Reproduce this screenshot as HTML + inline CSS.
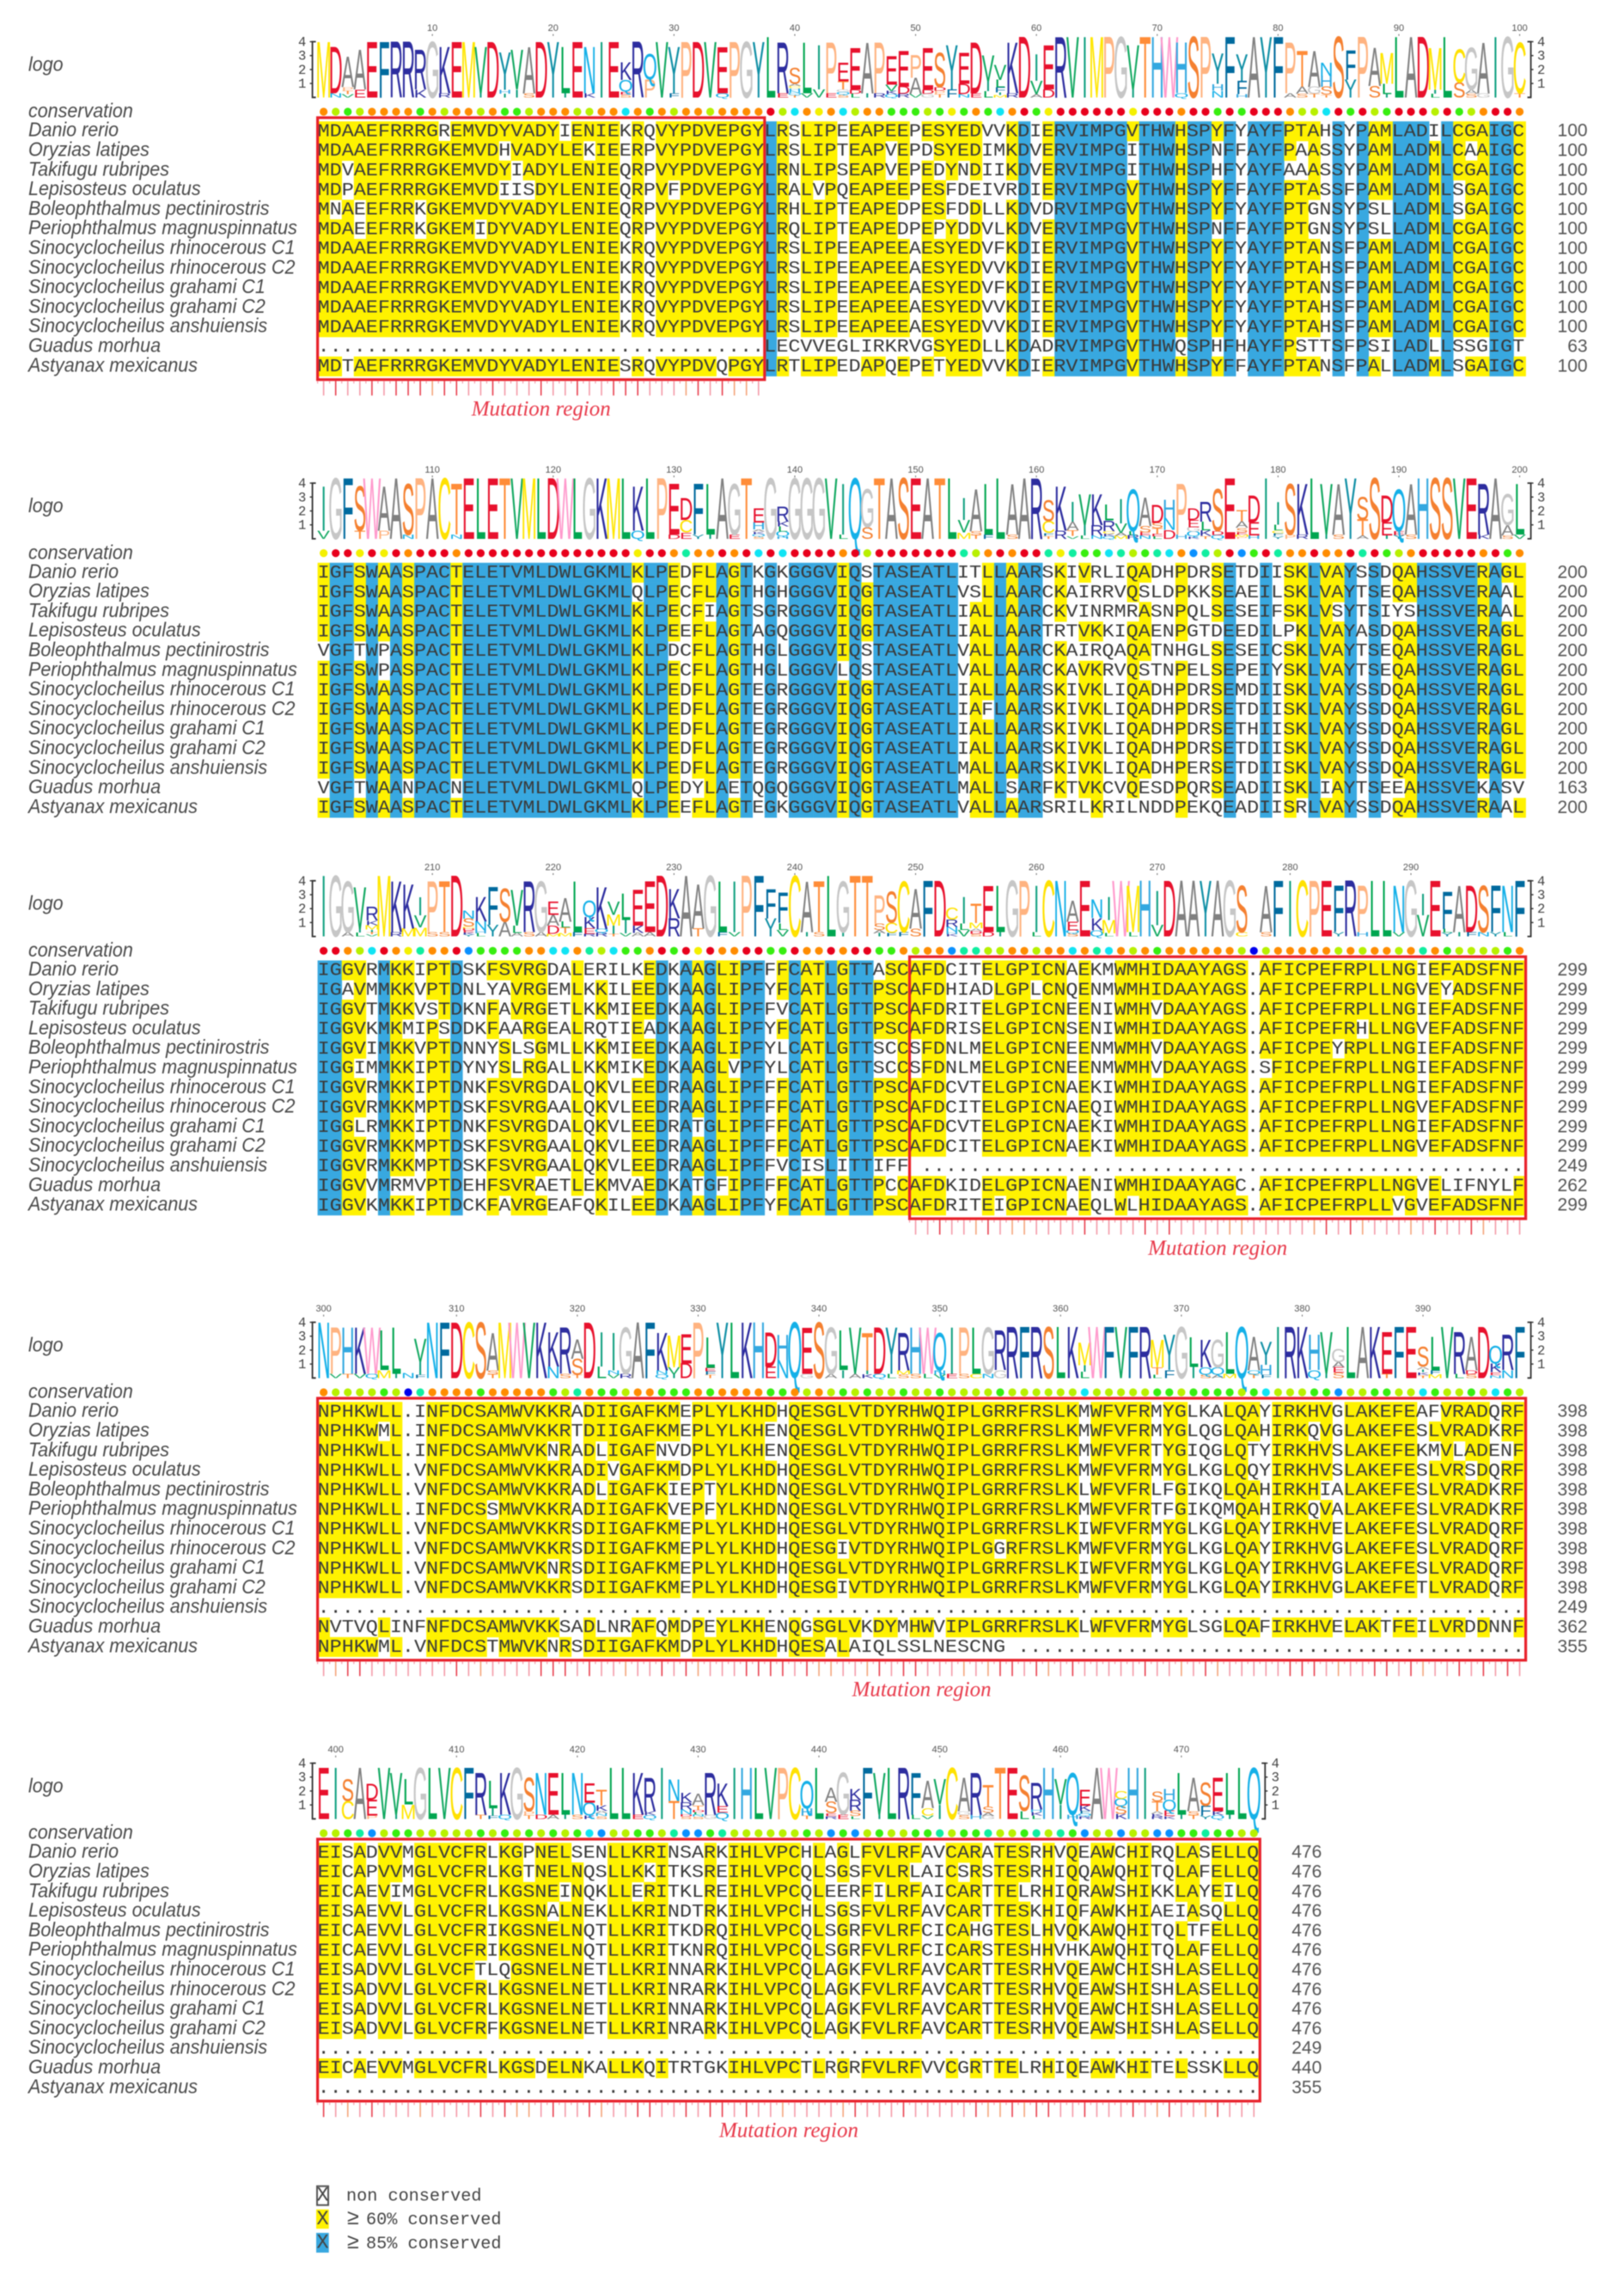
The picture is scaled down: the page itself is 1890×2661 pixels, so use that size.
<!DOCTYPE html>
<html lang="en">
<head>
<meta charset="utf-8">
<title>Multiple sequence alignment with logo and conservation</title>
<style>
html,body{margin:0;padding:0;background:#fff;}
#alignment-figure{display:block;width:1890px;height:2661px;filter:blur(0.6px);}
.mono{font-family:"Liberation Mono",monospace;}
.sans{font-family:"Liberation Sans",sans-serif;}
.serif{font-family:"Liberation Serif",serif;}
</style>
</head>
<body>
<svg id="alignment-figure" xmlns="http://www.w3.org/2000/svg" width="1890" height="2661" viewBox="0 0 1890 2661">
  <rect x="0" y="0" width="1890" height="2661" fill="#ffffff"/>
  <g id="blocks"></g>
  <g id="legend" class="mono" font-size="20.2" fill="#444">
    <g>
      <rect x="369" y="2543.7" width="13" height="22" fill="#fff" stroke="#555" stroke-width="2"/>
      <text x="375.5" y="2560.5" text-anchor="middle" font-size="23.4">X</text>
      <text x="403" y="2560.7">non conserved</text>
    </g>
    <g>
      <rect x="368" y="2570.7" width="14.7" height="22.5" fill="#fff200"/>
      <text x="375.5" y="2588" text-anchor="middle" font-size="23.4">X</text>
      <text x="404" y="2588"><tspan class="sans" font-size="25">≥</tspan><tspan x="426">60% conserved</tspan></text>
    </g>
    <g>
      <rect x="368" y="2598" width="14.7" height="23" fill="#38a8e0"/>
      <text x="375.5" y="2615.5" text-anchor="middle" font-size="23.4">X</text>
      <text x="404" y="2616"><tspan class="sans" font-size="25">≥</tspan><tspan x="426">85% conserved</tspan></text>
    </g>
  </g>
</svg>
<script>
const speciesNames = [
  "Danio rerio","Oryzias latipes","Takifugu rubripes","Lepisosteus oculatus",
  "Boleophthalmus pectinirostris","Periophthalmus magnuspinnatus",
  "Sinocyclocheilus rhinocerous C1","Sinocyclocheilus rhinocerous C2",
  "Sinocyclocheilus grahami C1","Sinocyclocheilus grahami C2",
  "Sinocyclocheilus anshuiensis","Guadus morhua","Astyanax mexicanus"
];

const alignmentBlock1 = [
  "MDAAEFRRRGREMVDYVADYIENIEKRQVYPDVEPGYLRSLIPEEAPEEPESYEDVVKDIERVIMPGVTHWHSPYFYAYFPTAHSYPAMLADILCGAIGC",
  "MDAAEFRRRGKEMVDHVADYLEKIEERPVYPDVEPGYLRSLIPTEAPVEPDSYEDIMKDVERVIMPGITHWHSPNFFAYFPAASSYPAMLADMLCAAIGC",
  "MDVAEFRRRGKEMVDYIADYLENIEQRPVYPDVEPGYLRNLIPSEAPVEPEDYNDIIKDVERVIMPGITHWHSPHFYAYFAAASSYPAMLADMLCGAIGC",
  "MDPAEFRRRGKEMVDIISDYLENIEQRPVFPDVEPGYLRALVPQEAPEEPESFDEIVRDIERVIMPGVTHWHSPYFFAYFPTASSFPAMLADMLSGAIGC",
  "MNAEEFRRKGKEMVDYVADYLENIEQRPVYPDVEPGYLRHLIPTEAPEDPESFDDLLKDVDRVIMPGVTHWHSPYFYAYFPTGNSYPSLLADMLSGAIGC",
  "MDAEEFRRKGKEMIDYVADYLENIEQRPVYPDVEPGYLRQLIPTEAPEDPEPYDDVLKDVERVIMPGVTHWHSPNFFAYFPTGNSYPSLLADMLCGAIGC",
  "MDAAEFRRRGKEMVDYVADYLENIEKRQVYPDVEPGYLRSLIPEEAPEEAESYEDVFKDIERVIMPGVTHWHSPYFYAYFPTANSFPAMLADMLCGAIGC",
  "MDAAEFRRRGKEMVDYVADYLENIEKRQVYPDVEPGYLRSLIPEEAPEEAESYEDVVKDIERVIMPGVTHWHSPYFYAYFPTAHSFPAMLADMLCGAIGC",
  "MDAAEFRRRGKEMVDYVADYLENIEKRQVYPDVEPGYLRSLIPEEAPEEAESYEDVFKDIERVIMPGVTHWHSPYFYAYFPTANSFPAMLADMLCGAIGC",
  "MDAAEFRRRGKEMVDYVADYLENIEKRQVYPDVEPGYLRSLIPEEAPEEAESYEDVVKDIERVIMPGVTHWHSPYFYAYFPTAHSFPAMLADMLCGAIGC",
  "MDAAEFRRRGKEMVDYVADYLENIEKRQVYPDVEPGYLRSLIPEEAPEEAESYEDVVKDIERVIMPGVTHWHSPYFYAYFPTAHSFPAMLADMLCGAIGC",
  ".....................................LECVVEGLIRKRVGSYEDLLKDADRVIMPGVTHWQSPHFHAYFPSTTSFPSILADLLSSGIGT",
  "MDTAEFRRRGKEMVDYVADYLENIESRQVYPDVQPGYLRTLIPEDAPQEPETYEDVVKDIERVIMPGVTHWHSPYFFAYFPTANSFPALLADMLSGAIGC"
];
const alignmentBlock2 = [
  "IGFSWAASPACTELETVMLDWLGKMLKLPEDFLAGTKGKGGGVIQSTASEATLITLLAARSKIVRLIQADHPDRSETDIISKLVAYSSDQAHSSVERAGL",
  "IGFSWAASPACTELETVMLDWLGKMLQLPECFLAGTHGHGGGVIQGTASEATLVSLLAARCKAIRRVQSLDPKKSEAEILSKLVAYTSEQAHSSVERAAL",
  "IGFSWAASPACTELETVMLDWLGKMLKLPECFIAGTSGRGGGVIQGTASEATLIALLAARCKVINRMRASNPQLSESEIFSKLVSYTSIYSHSSVERAAL",
  "IGFSWAASPACTELETVMLDWLGKMLKLPEEFLAGTAGQGGGVIQGTASEATLIALLAARTRTVKKIQAENPGTDEEDILPKLVAYASDQAHSSVERAGL",
  "VGFTWPASPACTELETVMLDWLGKMLKLPDCFLAGTHGLGGGVIQSTASEATLVALLAARCKAIRQAQATNHGLSESEICSKLVAYTSEQAHSSVERAGL",
  "IGFSWPASPACTELETVMLDWLGKMLKLPECFLAGTHGLGGGVLQSTASEATLVALLAARCKAVKRVQSTNPELSEPEIYSKLVAYTSEQAHSSVERAGL",
  "IGFSWAASPACTELETVMLDWLGKMLKLPEDFLAGTEGRGGGVIQGTASEATLIALLAARSKIVKLIQADHPDRSEMDIISKLVAYSSDQAHSSVERAGL",
  "IGFSWAASPACTELETVMLDWLGKMLKLPEDFLAGTEGRGGGVIQGTASEATLIAFLAARSKIVKLIQADHPDRSETDIISKLVAYSSDQAHSSVERAGL",
  "IGFSWAASPACTELETVMLDWLGKMLKLPEDFLAGTEGRGGGVIQGTASEATLIALLAARSKIVKLIQADHPDRSETHIISKLVAYSSDQAHSSVERAGL",
  "IGFSWAASPACTELETVMLDWLGKMLKLPEDFLAGTEGRGGGVIQGTASEATLIALLAARSKIVKLIQADHPDRSETDIISKLVAYSSDQAHSSVERAGL",
  "IGFSWAASPACTELETVMLDWLGKMLKLPEDFLAGTEGRGGGVIQGTASEATLMALLAARSKIVKLIQADHPERSETDIISKLVAYSSDQAHSSVERAGL",
  "VGFTWAANPACNELETVMLDWLGKMLQLPEDYLAETQGQGGGVIQGTASEATLMALLSARFKTVKCVQESDPQRSEADIISKLIAYTSEEAHSSVEKASV",
  "IGFSWAASPACTELETVMLDWLGKMLKLPEEFLAGTEGKGGGVIQGTASEATLVALLAARSRILKRILNDDPEKQEADIISRLVAYSSDQAHSSVERAAL"
];
const alignmentBlock3 = [
  "IGGVRMKKIPTDSKFSVRGDALERILKEDKAAGLIPFFFCATLGTTASCAFDCITELGPICNAEKMWMHIDAAYAGS.AFICPEFRPLLNGIEFADSFNF",
  "IGAVMMKKVPTDNLYAVRGEMLKKILEEDKAAGLIPFYFCATLGTTPSCAFDHIADLGPLCNQENMWMHIDAAYAGS.AFICPEFRPLLNGVEYADSFNF",
  "IGGVTMKKVSTDKNFAVRGETLKKMIEEDKAAGLIPFFVCATLGTTPSCAFDRITELGPICNEENIWMHVDAAYAGS.AFICPEFRPLLNGIEFADSFNF",
  "IGGVKMKMIPSDDKFAARGEALRQTIEADKAAGLIPFYFCATLGTTPSCAFDRISELGPICNSENIWMHIDAAYAGS.AFICPEFRHLLNGVEFADSFNF",
  "IGGVIMKKVPTDNNYSLSGMLLKKMIEEDKAAGLIPFYLCATLGTTSCCSFDNLMELGPICNEENMWMHVDAAYAGS.AFICPEYRPLLNGIEFADSFNF",
  "IGGIMMKKIPTDYNYSLRGALLKKMIKEDKAAGLVPFYLCATLGTTSCCSFDNLMELGPICNEENMWMHVDAAYAGS.SFICPEFRPLLNGIEFADSFNF",
  "IGGVRMKKIPTDNKFSVRGDALQKVLEEDRAAGLIPFFFCATLGTTPSCAFDCVTELGPICNAEKIWMHIDAAYAGS.AFICPEFRPLLNGIEFADSFNF",
  "IGGVRMKKMPTDSKFSVRGAALQKVLEEDRAAGLIPFFFCATLGTTPSCAFDCITELGPICNAEQIWMHIDAAYAGS.AFICPEFRPLLNGVEFADSFNF",
  "IGGLRMKKIPTDNKFSVRGDALQKVLEEDRATGLIPFFFCATLGTTPSCAFDCVTELGPICNAEKIWMHIDAAYAGS.AFICPEFRPLLNGIEFADSFNF",
  "IGGVRMKKMPTDSKFSVRGAALQKVLEEDRAAGLIPFFFCATLGTTPSCAFDCITELGPICNAEKIWMHIDAAYAGS.AFICPEFRPLLNGVEFADSFNF",
  "IGGVRMKKMPTDSKFSVRGAALQKVLEEDRAAGLIPFFVCISLITTIFF...................................................",
  "IGGVVMRMVPTDEHFSVRAETLEKMVAEDKATGFIPFFFCATLGTTPCCAFDKIDELGPICNAENIWMHIDAAYAGC.AFICPEFRPLLNGVELIFNYLF",
  "IGGVKMKKIPTDCKFAVRGEAFQKILEEDKAAGLIPFYFCATLGTTPSCAFDRITEIGPICNAEQLWLHIDAAYAGS.AFICPEFRPLLVGVEFADSFNF"
];
const alignmentBlock4 = [
  "NPHKWLL.INFDCSAMWVKKRADIIGAFKMEPLYLKHDHQESGLVTDYRHWQIPLGRRFRSLKMWFVFRMYGLKALQAYIRKHVGLAKEFEAFVRADQRF",
  "NPHKWML.INFDCSAMWVKKRTDIIGAFKMEPLYLKHENQESGLVTDYRHWQIPLGRRFRSLKMWFVFRMYGLQGLQAHIRKQVGLAKEFESLVRADKRF",
  "NPHKWLL.INFDCSAMWVKNRADLIGAFNVDPLYLKHENQESGLVTDYRHWQIPLGRRFRSLKMWFVFRTYGIQGLQTYIRKHVSLAKEFEKMVLADENF",
  "NPHKWLL.VNFDCSAMWVKKRADIVGAFKMDPLYLKHDHQESGLVTDYRHWQIPLGRRFRSLKMWFVFRMYGLKGLQQYIRKHVSLAKEFESLVRSDQRF",
  "NPHKWLL.VNFDCSAMWVKKRADLIGAFKIEPTYLKHDNQESGLVTDYRHWQIPLGRRFRSLKLWFVFRLFGIKQLQAHIRKHIALAKEFESLVRADKRF",
  "NPHKWLL.INFDCSSMWVKKRADIIGAFKVEPFYLKHDNQESGLVTDYRHWQIPLGRRFRSLKMWFVFRTFGIKQMQAHIRKQVALAKEFESLVRADKRF",
  "NPHKWLL.VNFDCSAMWVKKRSDIIGAFKMEPLYLKHDHQESGLVTDYRHWQIPLGRRFRSLKIWFVFRMYGLKGLQAYIRKHVELAKEFESLVRADQRF",
  "NPHKWLL.VNFDCSAMWVKKRSDIIGAFKMEPLYLKHDHQESGIVTDYRHWQIPLGGRFRSLKMWFVFRMYGLKGLQAYIRKHVGLAKEFESLVRADQRF",
  "NPHKWLL.VNFDCSAMWVKNRSDIIGAFKMEPLYLKHDHQESGLVTDYRHWQIPLGRRFRSLKIWFVFRMYGLKGLQAYIRKHVGLAKEFESLVRADQRF",
  "NPHKWLL.VNFDCSAMWVKKRSDIIGAFKMEPLYLKHDHQESGIVTDYRHWQIPLGRRFRSLKMWFVFRMYGLKGLQAYIRKHVGLAKEFETLVRADQRF",
  "....................................................................................................",
  "NVTVQLINFNFDCSAMWVKKSADLNRAFQMDPEYLKHENQGSGLVKDYMHWVIPLGRRFRSLKLWFVFRMYGLSGLQAFIRKHVELAKTFEILVRDDNNF",
  "NPHKWML.VNFDCSTMWVKNRSDIIGAFKMDPLYLKHDHQESALAIQLSSLNESCNG..........................................."
];
const alignmentBlock5 = [
  "EISADVVMGLVCFRLKGPNELSENLLKRINSARKIHLVPCHLAGLFVLRFAVCARATESRHVQEAWCHIRQLASELLQ",
  "EICAPVVMGLVCFRLKGTNELNQSLLKKITKSREIHLVPCQLSGSFVLRLAICSRSTESRHIQQAWQHITQLAFELLQ",
  "EICAEVIMGLVCFRLKGSNEINQKLLERITKLREIHLVPCQLEERFILRFAICARTTELRHIQRAWSHIKKLAYEILQ",
  "EISAEVVLGLVCFRLKGSNALNEKLLKRINDTRKIHLVPCHLSGSFVLRFAVCARTTESKHIQFAWKHIAEIASQLLQ",
  "EICAEVVLGLVCFRIKGSNELNQTLLKRITKDRQIHLVPCQLSGRFVLRFCICAHGTESLHVQKAWQHITQLTFELLQ",
  "EICAEVVLGLVCFRIKGSNELNQTLLKRITKNRQIHLVPCQLSGRFVLRFCICARSTESHHVHKAWQHITQLAFELLQ",
  "EISADVVLGLVCFTLQGSNELNETLLKRINNARKIHLVPCQLAGKFVLRFAVCARTTESRHVQEAWCHISHLASELLQ",
  "EISADVVLGLVCFRLKGSNELNETLLKRINRARKIHLVPCQLAGKFVLRFAVCARTTESRHVQEAWSHISHLASELLQ",
  "EISADVVLGLVCFRLKGSNELNETLLKRINNARKIHLVPCQLAGKFVLRFAVCARTTESRHVQEAWCHISHLASELLQ",
  "EISADVVLGLVCFRFKGSNELNETLLKRINRARKIHLVPCQLAGKFVLRFAVCARTTESRHVQEAWSHISHLASELLQ",
  "..............................................................................",
  "EICAEVVMGLVCFRLKGSDELNKALLKQITRTGKIHLVPCTLRGRFVLRFVVCGRTTELRHIQEAWKHITELSSKLLQ",
  ".............................................................................."
];
const alignmentBlocks = [alignmentBlock1, alignmentBlock2, alignmentBlock3, alignmentBlock4, alignmentBlock5];

/* conservation class per column, read from the dot row: 0 = highest (red) ... 8 = lowest (blue) */
const conservationBlock1 = "1343111141"+"3113144311"+"1331161413"+"1131111036"+"1216311444"+"3424146104"+"2000000200"+"0100404000"+"1336040340"+"0030431001";
const conservationBlock2 = "2002020100"+"0100000000"+"0000002001"+"5110106060"+"0001030000"+"0005310100"+"5254465345"+"6175307405"+"1101105043"+"1000001041";
const conservationBlock3 = "0013601251"+"1074444116"+"6153644104"+"0201100440"+"1101004413"+"1175533113"+"1161561314"+"1111113831"+"1111313113"+"1514333341";
const conservationBlock4 = "1333343851"+"1114111114"+"3514431144"+"4141111441"+"3134343343"+"3433334333"+"3336333334"+"4344443463"+"3344733443"+"3643343643";
const conservationBlock5 = "3345734433"+"3334343434"+"3467334435"+"7745333333"+"4374734334"+"4534453345"+"3547337337"+"74454433";
const conservationBlocks = [conservationBlock1, conservationBlock2, conservationBlock3, conservationBlock4, conservationBlock5];

/* mutation regions: block index, first column, last column (1-based) */
const mutationBlocks = [0, 2, 3, 4];
const mutationStarts = [1, 50, 1, 1];
const mutationEnds = [37, 100, 100, 78];

const logoTicks = [1, 2, 3, 4];
const consensusThreshold = 9;   /* matching sequences needed for yellow shading */
const fullThreshold = 13;       /* matching sequences needed for blue shading */

const conservationColors = ["#e8001c","#ff8c00","#f4f000","#b8f000","#38ee10","#10eea0","#10e4f4","#0a90ff","#0000ee"];
const residueColors = {
  A:"#808080",C:"#ffe100",D:"#e8112d",E:"#e8112d",F:"#006a9e",G:"#c6c6c6",H:"#33a8e0",
  I:"#10a080",K:"#2d2d9f",L:"#00a650",M:"#ffe600",N:"#14b0e8",P:"#ffb380",Q:"#14b0e8",
  R:"#2d2d9f",S:"#f58030",T:"#ff8c38",V:"#10a860",W:"#ff99cc",Y:"#0f8fa5"
};

/* layout */
const NS = "http://www.w3.org/2000/svg";
const blockDanioY = [151.7, 665.3, 1128, 1641.7, 2154.7];
const firstColX = 369.6, colW = 14.06, rowH = 22.8, logoUnit = 16.2;
const colX = i => firstColX + colW * i;
const rowY = (b, r) => blockDanioY[b] + rowH * r;
const logoBase = b => blockDanioY[b] - 38.4;
const logoY = (b, v) => logoBase(b) - v * logoUnit;
const nameFill = "#4a4a4a";
const nameTransform = "translate(33 0) scale(0.934 1) translate(-33 0)";

function make(parent, tag, attrs, text) {
  const el = document.createElementNS(NS, tag);
  for (const k in attrs) el.setAttribute(k, attrs[k]);
  if (text !== undefined) el.textContent = text;
  parent.appendChild(el);
  return el;
}
function columnCounts(rows, c) {
  const counts = {};
  let n = 0;
  rows.forEach(r => { const ch = r[c]; if (ch !== ".") { counts[ch] = (counts[ch] || 0) + 1; n++; } });
  return { counts, n };
}
function consensusOf(counts) {
  let best = null, bestN = 0;
  Object.keys(counts).sort().forEach(k => { if (counts[k] > bestN) { best = k; bestN = counts[k]; } });
  return { best, bestN };
}

const blocksRoot = document.getElementById("blocks");
const runningTotals = speciesNames.map(() => 0);
let labelCounter = 0;

alignmentBlocks.forEach((rows, b) => {
  const nCols = rows[0].length;
  const g = make(blocksRoot, "g", {});
  
  

  /* row-title labels */
  const logoLabel = make(g, "text", { x: 33, y: logoY(b, 0) - 31, class: "sans", "font-size": 23, "font-style": "italic", fill: nameFill, transform: nameTransform }, "logo");
  
  
  const consLabel = make(g, "text", { x: 33, y: blockDanioY[b] - 15, class: "sans", "font-size": 23, "font-style": "italic", fill: nameFill, transform: nameTransform }, "conservation");
  
  

  /* position labels along the reference sequence */
  rows[0].split("").forEach((ch, c) => {
    if (ch === ".") return;
    labelCounter++;
    if (labelCounter % 10 === 0) {
      const lab = make(g, "text", { x: colX(c + 0.5), y: blockDanioY[b] - 115.5, "text-anchor": "middle", class: "sans", "font-size": 11, fill: "#555" }, String(labelCounter));
      
      
      const tk = make(g, "line", { x1: colX(c + 0.5), x2: colX(c + 0.5), y1: blockDanioY[b] - 112, y2: blockDanioY[b] - 110, stroke: "#666", "stroke-width": 1 });
      
      
    }
  });

  /* logo axes */
  [[firstColX - 6, -1], [colX(nCols) + 6, 1]].forEach(([ax, dir]) => {
    const top = logoY(b, 4), bot = logoBase(b);
    const bracket = make(g, "path", { d: `M${ax - 4 * dir} ${top}H${ax}V${bot}H${ax - 4 * dir}`, fill: "none", stroke: "#333", "stroke-width": 1.8 });
    
    
    logoTicks.forEach(v => {
      const tick = make(g, "line", { x1: ax, x2: ax + 3 * dir, y1: logoY(b, v), y2: logoY(b, v), stroke: "#333", "stroke-width": 1.4 });
      
      
      const label = make(g, "text", { x: ax + 12 * dir, y: logoY(b, v) + 5, "text-anchor": "middle", class: "mono", "font-size": 15.5, fill: "#444" }, String(v));
      
      
    });
  });

  /* logo letters + conservation dots + shading */
  const N = rows.length;
  const logoGroup = make(g, "g", { class: "sans" });
  
  
  const shadeGroup = make(g, "g", {});
  
  

  const consensus = [];
  for (let c = 0; c < nCols; c++) {
    const { counts, n } = columnCounts(rows, c);
    const { best, bestN } = consensusOf(counts);
    consensus.push(best);
    if (n > 0) {
      let H = 0;
      Object.values(counts).forEach(k => { const f = k / n; H -= f * Math.log2(f); });
      const info = (Math.log2(20) - H) * n / N;
      const letters = Object.keys(counts).sort((p, q) => counts[p] - counts[q] || (p < q ? 1 : -1));
      let stack = 0;
      letters.forEach(letter => {
        const h = info * counts[letter] / n;
        const yBase = logoY(b, stack);
        const px = h * logoUnit;
        const t = make(logoGroup, "text", {
          transform: `translate(${colX(c + 0.5)} ${yBase}) scale(0.22 ${px / 68.8})`,
          "text-anchor": "middle", "font-size": 100, fill: residueColors[letter] || "#888"
        }, letter);
        
        
        stack += h;
      });
    }
    const dot = make(g, "circle", { cx: colX(c + 0.5), cy: blockDanioY[b] - 21.7, r: 4.6, fill: conservationColors[+conservationBlocks[b][c]] });
    
    

    rows.forEach((row, r) => {
      if (row[c] === "." || row[c] !== best || bestN < consensusThreshold) return;
      const cell = make(shadeGroup, "rect", {
        x: colX(c), y: rowY(b, r) - 10.5, width: colW + 0.3, height: rowH + 0.3,
        fill: bestN >= fullThreshold ? "#38a8e0" : "#fff200"
      });
      
      
    });
  }

  /* sequence rows */
  rows.forEach((row, r) => {
    const y = rowY(b, r);
    const name = make(g, "text", { x: 33, y: y + 7, class: "sans", "font-size": 23, "font-style": "italic", fill: nameFill, transform: nameTransform }, speciesNames[r]);
    
    
    /* the first trailing gap after the last residue prints as a blank cell */
    const shown = row.replace(/([A-Z])\.(\.*)$/, "$1\u00A0$2");
    const seq = make(g, "text", { x: 0, y: 0, transform: `translate(${firstColX} ${y + 6.7}) scale(1 0.9)`, class: "mono", "font-size": colW / 0.6001, fill: "#3a3a3a" }, shown);
    
    
    runningTotals[r] += row.replace(/\./g, "").length;
    const total = make(g, "text", { x: colX(nCols) + 72, y: y + 7, "text-anchor": "end", class: "sans", "font-size": 21, fill: "#555" }, String(runningTotals[r]));
    
    
  });

  /* mutation region */
  mutationBlocks.forEach((mb, m) => {
    if (mb !== b) return;
    const x0 = colX(mutationStarts[m] - 1), x1 = colX(mutationEnds[m]);
    const y0 = blockDanioY[b] - 14.8, y1 = blockDanioY[b] + 290;
    const box = make(g, "rect", { x: x0, y: y0, width: x1 - x0, height: y1 - y0, fill: "none", stroke: "#e8202a", "stroke-width": 3.2 });
    
    
    for (let c = mutationStarts[m] - 1; c < mutationEnds[m]; c++) {
      const res = consensus[c] || "A";
      const col = "DEKRH".includes(res) ? "#e8404f" : "PGST".includes(res) ? "#f4a47a" : "#f49aa8";
      const stem = make(g, "line", { x1: colX(c + 0.5), x2: colX(c + 0.5), y1: y1 + 1.5, y2: y1 + 18.5, stroke: col, "stroke-width": 1.6 });
      
      
      const comb = make(g, "line", { x1: colX(c), x2: colX(c), y1: y1 + 1.5, y2: y1 + 4.5, stroke: "#f49aa8", "stroke-width": 1.2 });
      
      
    }
    const lab = make(g, "text", { x: (x0 + x1) / 2, y: blockDanioY[b] + 332, "text-anchor": "middle", class: "serif", "font-size": 25, "font-style": "italic", fill: "#e8394a", textLength: 162, lengthAdjust: "spacingAndGlyphs" }, "Mutation region");
    
    
  });
});
</script>
</body>
</html>
